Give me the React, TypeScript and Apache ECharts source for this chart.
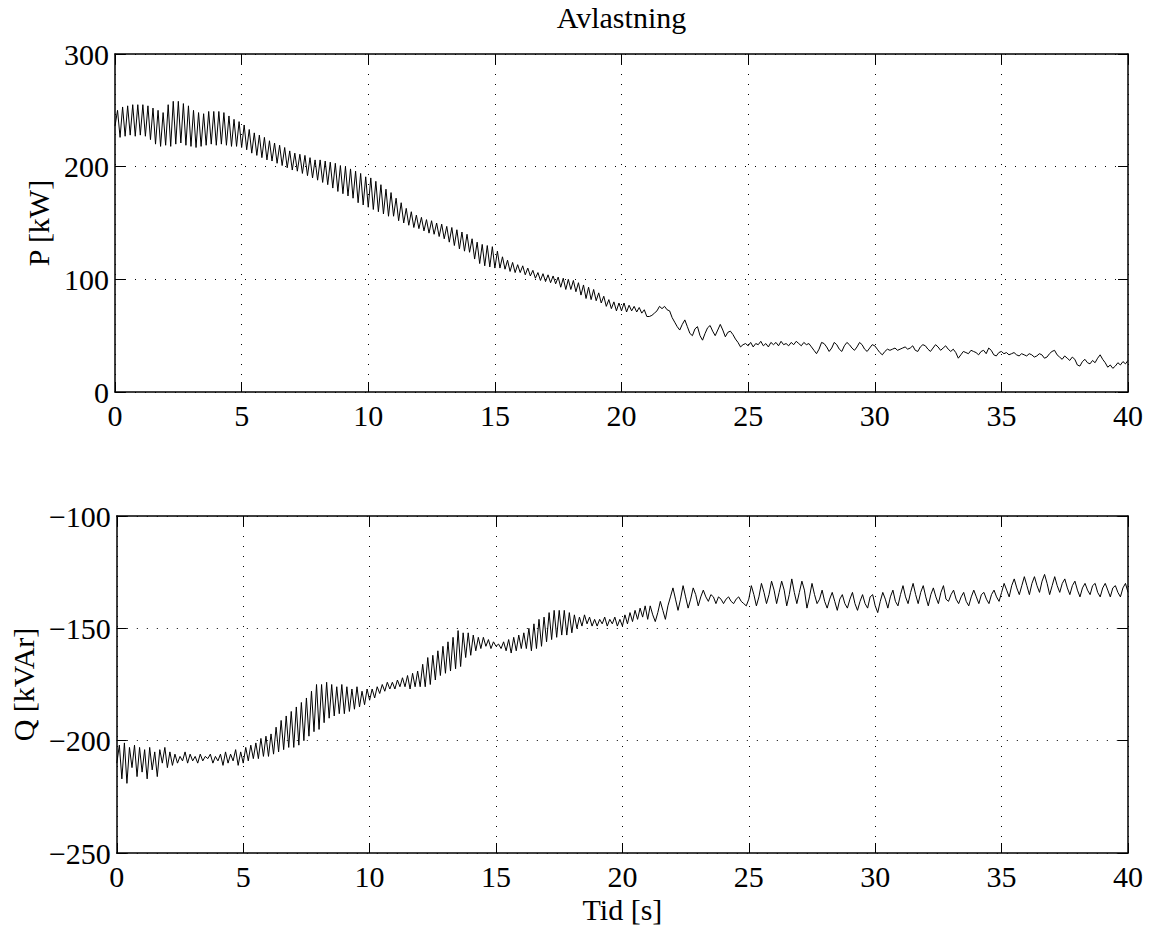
import React, { useEffect, useRef } from "react";
import * as echarts from "echarts";

const TITLE = "Avlastning";
const X_LABEL = "Tid [s]";
const P_LABEL = "P [kW]";
const Q_LABEL = "Q [kVAr]";

const X_MIN = 0;
const X_MAX = 40;
const X_STEP = 5;
const P_MIN = 0;
const P_MAX = 300;
const P_STEP = 100;
const Q_MIN = -250;
const Q_MAX = -100;
const Q_STEP = 50;

// sample time step of the readings [s]
const DT = 0.1;

// Active power P [kW], read every 0.1 s from 0 to 40 s
const pValues: number[] = [
  236, 250, 226, 253, 227, 254, 228, 255, 227, 255,
  228, 255, 227, 254, 224, 252, 220, 250, 218, 248,
  219, 255, 218, 258, 220, 258, 221, 256, 219, 254,
  218, 250, 217, 248, 218, 247, 219, 249, 220, 249,
  219, 249, 220, 248, 219, 245, 218, 242, 218, 240,
  217, 237, 215, 233, 212, 230, 210, 228, 208, 226,
  206, 223, 205, 221, 203, 219, 201, 217, 199, 214,
  197, 212, 196, 211, 194, 210, 192, 208, 190, 206,
  188, 206, 186, 205, 184, 204, 181, 203, 178, 201,
  176, 200, 174, 198, 172, 196, 168, 194, 166, 191,
  164, 190, 162, 187, 160, 184, 158, 180, 156, 177,
  156, 172, 152, 168, 150, 163, 148, 160, 146, 157,
  145, 155, 143, 153, 141, 152, 140, 150, 138, 149,
  136, 147, 133, 146, 130, 144, 127, 142, 125, 140,
  124, 136, 118, 133, 114, 131, 112, 130, 111, 129,
  110, 125, 110, 120, 109, 117, 107, 115, 106, 113,
  106, 112, 104, 110, 103, 108, 101, 106, 99, 105,
  98, 104, 97, 103, 96, 102, 93, 101, 91, 100,
  91, 99, 89, 97, 86, 95, 83, 93, 82, 91,
  81, 88, 79, 85, 76, 82, 74, 80, 72, 79,
  72, 79, 71, 77, 72, 76, 71, 75, 70, 73,
  67, 67, 68, 70, 72, 76, 74, 76, 73, 72,
  66, 62, 58, 55, 60, 64, 58, 52, 50, 56,
  58, 50, 46, 52, 57, 59, 54, 50, 55, 60,
  55, 49, 53, 54, 51, 47, 44, 40, 42, 43,
  41, 44, 40, 43, 42, 45, 41, 43, 40, 44,
  42, 44, 41, 45, 42, 43, 41, 44, 42, 45,
  43, 41, 44, 42, 43, 40, 37, 34, 38, 44,
  43, 40, 36, 39, 44, 42, 38, 36, 41, 44,
  42, 39, 37, 40, 44, 42, 38, 36, 39, 42,
  41, 38, 35, 33, 36, 38, 37, 38, 39, 37,
  38, 39, 40, 38, 39, 41, 37, 36, 40, 42,
  41, 38, 36, 39, 42, 40, 37, 39, 41, 38,
  36, 38, 35, 30, 33, 36, 35, 34, 37, 36,
  35, 33, 36, 37, 34, 39, 37, 33, 32, 35,
  36, 34, 35, 33, 34, 35, 33, 32, 34, 33,
  32, 34, 33, 31, 32, 34, 33, 30, 31, 34,
  36, 37, 33, 31, 29, 32, 30, 28, 31, 29,
  24, 23, 27, 29, 26, 25, 28, 26, 30, 33,
  29, 26, 22, 24, 21, 23, 26, 24, 27, 25,
  28,
];

// Reactive power Q [kVAr], read every 0.1 s from 0 to 40 s
const qValues: number[] = [
  -210, -202, -217, -201, -219, -203, -212, -202, -216, -203,
  -214, -204, -217, -203, -213, -205, -216, -204, -210, -203,
  -212, -205, -211, -206, -210, -207, -209, -205, -210, -206,
  -209, -207, -210, -206, -209, -207, -208, -206, -210, -207,
  -209, -206, -211, -205, -210, -206, -209, -204, -211, -205,
  -210, -203, -209, -202, -208, -201, -208, -199, -207, -198,
  -207, -197, -206, -194, -205, -191, -204, -189, -203, -187,
  -203, -185, -202, -183, -200, -181, -198, -178, -196, -175,
  -195, -175, -192, -174, -190, -175, -189, -176, -188, -175,
  -188, -176, -187, -177, -186, -176, -185, -178, -184, -177,
  -182, -177, -181, -176, -179, -175, -178, -174, -177, -174,
  -177, -173, -176, -172, -176, -171, -177, -170, -176, -169,
  -176, -166, -176, -163, -175, -162, -173, -160, -171, -158,
  -170, -156, -169, -154, -168, -151, -167, -152, -163, -152,
  -162, -153, -160, -154, -159, -154, -158, -155, -159, -156,
  -158, -157, -159, -156, -160, -155, -161, -154, -160, -153,
  -159, -152, -159, -150, -160, -148, -159, -146, -158, -145,
  -156, -143, -155, -142, -154, -142, -153, -142, -153, -143,
  -152, -144, -150, -145, -149, -144, -148, -145, -149, -146,
  -149, -146, -148, -145, -149, -146, -148, -145, -149, -146,
  -149, -144, -148, -143, -147, -142, -146, -141, -145, -140,
  -146, -140, -144, -147, -143, -138, -142, -146, -140, -136,
  -132, -137, -142, -137, -131, -136, -141, -137, -132, -135,
  -140, -136, -133, -136, -138, -135, -136, -139, -136, -137,
  -139, -137, -136, -138, -139, -137, -136, -138, -139, -140,
  -137, -131, -135, -140, -136, -130, -134, -139, -135, -129,
  -133, -139, -134, -129, -133, -140, -135, -128, -134, -139,
  -134, -129, -133, -141, -136, -130, -135, -139, -137, -133,
  -138, -141, -137, -134, -138, -142, -137, -135, -139, -141,
  -137, -134, -139, -142, -138, -135, -139, -141, -136, -135,
  -140, -143, -138, -134, -137, -141, -136, -133, -138, -140,
  -135, -131, -136, -139, -134, -130, -135, -139, -134, -131,
  -136, -140, -135, -132, -136, -139, -134, -131, -137, -138,
  -135, -133, -137, -139, -136, -134, -138, -140, -136, -133,
  -136, -139, -135, -134, -137, -139, -135, -133, -136, -138,
  -134, -130, -133, -136, -131, -128, -132, -135, -131, -127,
  -131, -135, -130, -127, -131, -134, -129, -126, -130, -135,
  -131, -127, -131, -134, -130, -128, -132, -135, -131, -129,
  -133, -136, -132, -130, -133, -135, -131, -130, -134, -136,
  -132, -130, -133, -136, -132, -131, -134, -136, -132, -130,
  -134,
];

const FONT = "'Liberation Serif', 'Times New Roman', serif";
const FS = 30;

const G_LEFT = 115;
const G_WIDTH = 1013;
const G0_TOP = 54;
const G0_H = 338;
const G1_TOP = 516;
const G1_H = 337;

const minus = (v: number) => String(v).replace("-", "\u2212");

function makeX(gridIndex: number, position: "bottom" | "top", labels: boolean, name?: string) {
  return {
    type: "value",
    gridIndex,
    position,
    min: X_MIN,
    max: X_MAX,
    interval: X_STEP,
    name: name || "",
    nameLocation: "middle",
    nameGap: 41,
    nameTextStyle: { fontFamily: FONT, fontSize: FS, color: "#000", verticalAlign: "top" },
    axisLine: { show: true, onZero: false, lineStyle: { color: "#000", width: 1.5 } },
    axisTick: { show: true, inside: true, length: 10, lineStyle: { color: "#000", width: 1 } },
    axisLabel: {
      show: labels,
      fontFamily: FONT,
      fontSize: FS,
      color: "#000",
      margin: 8,
      formatter: (v: number) => minus(v),
    },
    splitLine: {
      show: position === "bottom",
      lineStyle: { color: "#000", width: 1, type: [1, 9] },
    },
  };
}

function makeY(gridIndex: number, position: "left" | "right", labels: boolean, min: number, max: number, step: number, name?: string) {
  return {
    type: "value",
    gridIndex,
    position,
    min,
    max,
    interval: step,
    name: name || "",
    nameLocation: "middle",
    nameGap: 62,
    nameRotate: 90,
    nameTextStyle: { fontFamily: FONT, fontSize: FS, color: "#000" },
    axisLine: { show: true, onZero: false, lineStyle: { color: "#000", width: 1.5 } },
    axisTick: { show: true, inside: true, length: 10, lineStyle: { color: "#000", width: 1 } },
    axisLabel: {
      show: labels,
      fontFamily: FONT,
      fontSize: FS,
      color: "#000",
      margin: 6,
      formatter: (v: number) => minus(v),
    },
    splitLine: {
      show: position === "left",
      lineStyle: { color: "#000", width: 1, type: [1, 9] },
    },
  };
}

export default function App() {
  const ref = useRef<HTMLDivElement>(null);

  useEffect(() => {
    if (!ref.current) return;
    const chart = echarts.init(ref.current, null, { renderer: "svg" });
    const pData = pValues.map((v, i) => [Math.round(i * DT * 10) / 10, v]);
    const qData = qValues.map((v, i) => [Math.round(i * DT * 10) / 10, v]);

    chart.setOption({
      animation: false,
      backgroundColor: "#fff",
      graphic: [
        {
          type: "text",
          x: G_LEFT + G_WIDTH / 2,
          y: 2,
          style: {
            text: TITLE,
            font: `${FS}px ${FONT}`,
            fill: "#000",
            align: "center",
            verticalAlign: "top",
            textAlign: "center",
            textVerticalAlign: "top",
          },
        },
      ],
      grid: [
        { left: G_LEFT, width: G_WIDTH, top: G0_TOP, height: G0_H, containLabel: false },
        { left: G_LEFT, width: G_WIDTH, top: G1_TOP, height: G1_H, containLabel: false },
      ],
      xAxis: [
        makeX(0, "bottom", true),
        makeX(0, "top", false),
        makeX(1, "bottom", true, X_LABEL),
        makeX(1, "top", false),
      ],
      yAxis: [
        makeY(0, "left", true, P_MIN, P_MAX, P_STEP, P_LABEL),
        makeY(0, "right", false, P_MIN, P_MAX, P_STEP),
        makeY(1, "left", true, Q_MIN, Q_MAX, Q_STEP, Q_LABEL),
        makeY(1, "right", false, Q_MIN, Q_MAX, Q_STEP),
      ],
      series: [
        {
          type: "line",
          xAxisIndex: 0,
          yAxisIndex: 0,
          data: pData,
          symbol: "none",
          lineStyle: { color: "#000", width: 1 },
        },
        {
          type: "line",
          xAxisIndex: 2,
          yAxisIndex: 2,
          data: qData,
          symbol: "none",
          lineStyle: { color: "#000", width: 1 },
        },
      ],
    });
    return () => chart.dispose();
  }, []);

  return (
    <div
      ref={ref}
      style={{ position: "fixed", left: 0, top: 0, width: 1152, height: 926, background: "#fff" }}
    />
  );
}
